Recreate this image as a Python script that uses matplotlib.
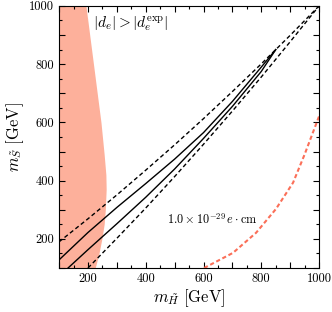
import matplotlib
matplotlib.use("Agg")
import matplotlib.pyplot as plt
from matplotlib.ticker import MultipleLocator, FuncFormatter

plt.rcParams["mathtext.fontset"] = "cm"
plt.rcParams["font.family"] = "serif"
plt.rcParams["font.serif"] = ["cmr10", "DejaVu Serif"]
plt.rcParams["axes.formatter.use_mathtext"] = True

# excluded region |d_e| > |d_e^exp| : boundary m_H(m_S)
excl_mS = [100, 150, 200, 250, 300, 370, 420, 490, 600, 700, 800, 900, 1000]
excl_mH = [225, 238, 248, 256, 260, 263, 262, 256, 245, 232, 219, 206, 193]

# contour lines (m_H, m_S)
upd_x = [100, 200, 300, 400, 500, 600, 700, 800, 900, 1000]
upd_y = [190, 269, 351, 436, 523, 613, 706, 801, 899, 1000]
ups_x = [100, 200, 300, 400, 500, 600, 700, 800, 850]
ups_y = [128, 222, 308, 390, 474, 565, 672, 790, 850]
los_x = [131, 200, 300, 400, 500, 600, 700, 800, 850]
los_y = [100, 163, 252, 343, 440, 545, 655, 775, 850]
lod_x = [200, 300, 400, 500, 600, 700, 800, 900, 1000]
lod_y = [100, 202, 306, 414, 525, 639, 756, 877, 1000]

# 1.0e-29 e cm contour
red_x = [602, 702, 782, 851, 910, 950, 1000]
red_y = [100, 152, 221, 303, 393, 490, 621]

fig = plt.figure(figsize=(3.32, 3.12), dpi=100)
ax = fig.add_axes([0.178, 0.141, 0.783, 0.840])

ax.fill_betweenx(excl_mS, 100, excl_mH, color="#fdb09b", lw=0)

k = dict(color="black", lw=1.0)
ax.plot(upd_x, upd_y, ls=(0, (3, 2)), **k)
ax.plot(lod_x, lod_y, ls=(0, (3, 2)), **k)
ax.plot(ups_x, ups_y, **k)
ax.plot(los_x, los_y, **k)
ax.plot(red_x, red_y, color="#fb6f58", lw=1.5, ls=(0, (2, 1.3)))

ax.text(218, 938, r"$|d_e| > |d_e^{\rm exp}|$", fontsize=11, va="center")
ax.text(474, 265, r"$1.0\times10^{-29}\,e\cdot{\rm cm}$", fontsize=8.8, va="center")

ax.set_xlim(100, 1000)
ax.set_ylim(100, 1000)
for a in (ax.xaxis, ax.yaxis):
    a.set_major_locator(MultipleLocator(100))
    a.set_minor_locator(MultipleLocator(50))
    a.set_major_formatter(FuncFormatter(lambda v, p: "%d" % v if int(round(v)) % 200 == 0 else ""))
ax.tick_params(which="both", direction="in", top=True, right=True, labelsize=9)
ax.tick_params(which="major", length=4, width=0.8)
ax.tick_params(which="minor", length=2.5, width=0.8)

ax.set_xlabel(r"$m_{\tilde{H}}\ [\mathrm{GeV}]$", fontsize=12, labelpad=2)
ax.set_ylabel(r"$m_{\tilde{S}}\ [\mathrm{GeV}]$", fontsize=12, labelpad=2)

fig.savefig("out.png", dpi=100)
